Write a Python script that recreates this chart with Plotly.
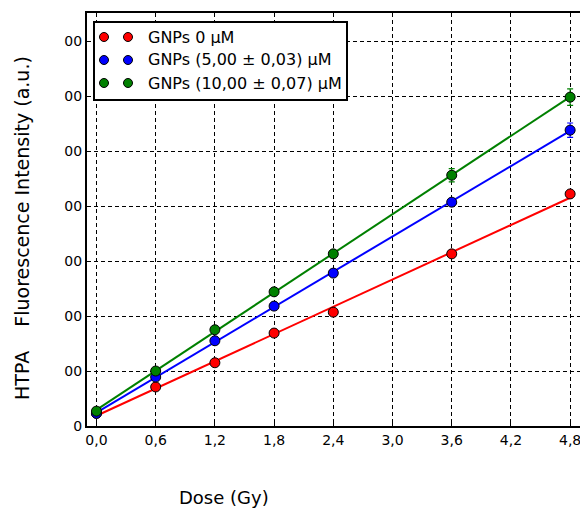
import numpy as np
import plotly.graph_objects as go

dose = [0.0, 0.6, 1.2, 1.8, 2.4, 3.6, 4.8]
series_names = ["GNPs 0 µM", "GNPs (5,00 ± 0,03) µM", "GNPs (10,00 ± 0,07) µM"]
gnp0 = [23, 71, 115, 169, 207, 313, 422]
gnp0_err = [3, 3, 3, 3, 3, 3, 3]
gnp5 = [23, 89, 155, 218, 278, 407, 538]
gnp5_err = [3, 4, 4, 4, 4, 6, 13]
gnp10 = [27, 100, 175, 244, 313, 456, 598]
gnp10_err = [3, 4, 4, 5, 6, 12, 15]
colors = ["#ff0000", "#0000ff", "#008000"]

x_tickvals = [0.0, 0.6, 1.2, 1.8, 2.4, 3.0, 3.6, 4.2, 4.8]
x_ticktext = ["0,0", "0,6", "1,2", "1,8", "2,4", "3,0", "3,6", "4,2", "4,8"]
y_tickvals = [0, 100, 200, 300, 400, 500, 600, 700]
y_ticktext = ["0", "00", "00", "00", "00", "00", "00", "00"]

FONT = "DejaVu Sans"
fig = go.Figure()

for ys, errs, col, name in zip([gnp0, gnp5, gnp10], [gnp0_err, gnp5_err, gnp10_err], colors, series_names):
    k, b = np.polyfit(dose, ys, 1)
    xf = np.array([dose[0], dose[-1]])
    fig.add_trace(go.Scatter(x=xf, y=k * xf + b, mode="lines",
                             line=dict(color=col, width=2), showlegend=False, hoverinfo="skip"))
    fig.add_trace(go.Scatter(x=dose, y=ys, mode="markers", name=name,
                             marker=dict(color=col, size=10, line=dict(color="black", width=1)),
                             error_y=dict(type="data", array=errs, color=col, thickness=1.2, width=3),
                             showlegend=False))

W, H = 580, 509
ml, mr, mt, mb = 87, 0, 13, 83
pw, ph = W - ml - mr, H - mt - mb

def px(xp):
    return (xp - ml) / pw

def py(yp):
    return (H - mb - yp) / ph

shapes = []
annotations = []
# custom legend (matplotlib style, two markers per entry)
shapes.append(dict(type="rect", xref="paper", yref="paper", x0=px(94), x1=px(347), y0=py(100), y1=py(22),
                   line=dict(color="black", width=2), fillcolor="white", layer="above"))
row_y = [37, 60, 83]
for i, (name, col) in enumerate(zip(series_names, colors)):
    for mx in (104, 128):
        shapes.append(dict(type="circle", xref="paper", yref="paper", xsizemode="pixel", ysizemode="pixel",
                           xanchor=px(mx), yanchor=py(row_y[i]), x0=-4.5, x1=4.5, y0=-4.5, y1=4.5,
                           fillcolor=col, line=dict(color="black", width=1), layer="above"))
    annotations.append(dict(text=name, xref="paper", yref="paper", x=px(146), y=py(row_y[i]),
                            xanchor="left", yanchor="middle", showarrow=False,
                            font=dict(family=FONT, size=16, color="black")))

annotations.append(dict(text="HTPA\u00a0\u00a0\u00a0\u00a0Fluorescence Intensity (a.u.)",
                        xref="paper", yref="paper", x=px(22), y=py(228), textangle=-90,
                        xanchor="center", yanchor="middle", showarrow=False,
                        font=dict(family=FONT, size=19, color="black")))
annotations.append(dict(text="Dose (Gy)", xref="paper", yref="paper", x=px(224), y=py(497),
                        xanchor="center", yanchor="middle", showarrow=False,
                        font=dict(family=FONT, size=18, color="black")))

fig.update_layout(
    width=W, height=H,
    margin=dict(l=ml, r=mr, t=mt, b=mb, pad=0),
    paper_bgcolor="white", plot_bgcolor="white",
    font=dict(family=FONT, size=14, color="black"),
    showlegend=False,
    shapes=shapes, annotations=annotations,
    xaxis=dict(range=[-0.096, 4.90], tickvals=x_tickvals, ticktext=x_ticktext,
               showgrid=True, gridcolor="black", griddash="4px,3px", gridwidth=1,
               showline=True, linecolor="black", linewidth=2, mirror=True,
               ticks="inside", ticklen=4, tickcolor="black", zeroline=False,
               ticklabeloverflow="allow",
               tickfont=dict(family=FONT, size=14)),
    yaxis=dict(range=[0, 751], tickvals=y_tickvals, ticktext=y_ticktext,
               showgrid=True, gridcolor="black", griddash="4px,3px", gridwidth=1,
               showline=True, linecolor="black", linewidth=2, mirror=False,
               ticks="inside", ticklen=4, tickcolor="black", zeroline=False,
               tickfont=dict(family=FONT, size=14)),
)

fig.write_html("out.html", config={"displayModeBar": False},
               post_script="document.body.style.margin='0';document.body.style.overflow='hidden';")
